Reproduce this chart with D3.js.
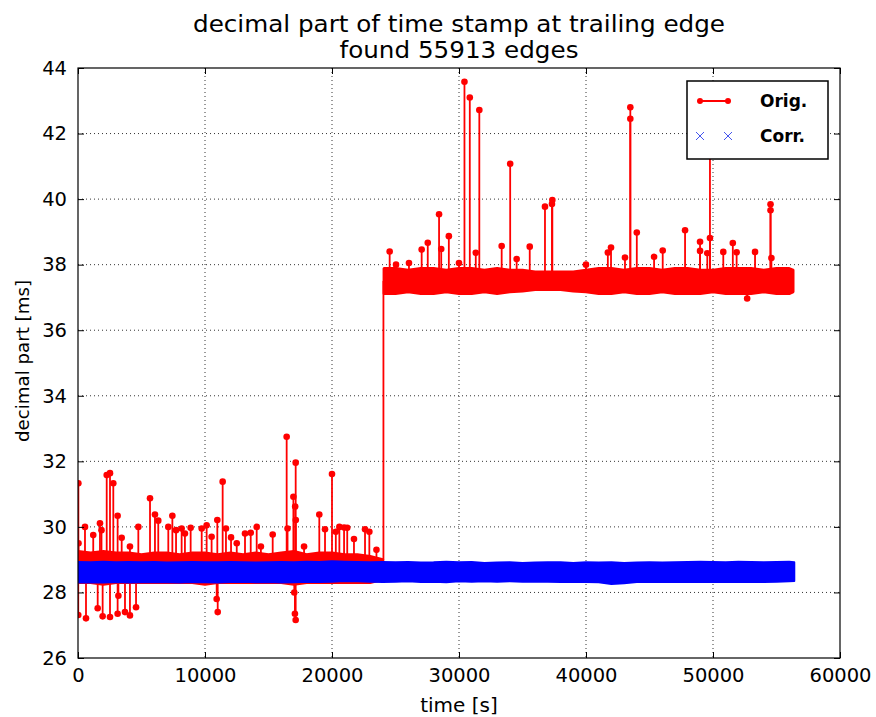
<!DOCTYPE html>
<html>
<head>
<meta charset="utf-8">
<script src="https://cdn.jsdelivr.net/npm/d3@7"></script>
<style>
  html, body { margin: 0; padding: 0; background: #fff; }
  svg { display: block; }
  text { font-family: "DejaVu Sans", sans-serif; fill: #000; }
</style>
</head>
<body>
<svg id="chart" width="876" height="717"></svg>
<script>
// ---------- DATA ----------
const titleLines = ["decimal part of time stamp at trailing edge", "found 55913 edges"];
const xLabel = "time [s]";
const yLabel = "decimal part [ms]";
const xTicks = [0, 10000, 20000, 30000, 40000, 50000, 60000];
const yTicks = [26, 28, 30, 32, 34, 36, 38, 40, 42, 44];
const seriesNames = ["Orig.", "Corr."];

// Orig. dense band, first part (before the jump): envelope of the noise
const origBand1T  = [0,1000,2000,3000,4000,5000,6000,7000,8000,9000,10000,11000,12000,13000,14000,15000,16000,17000,18000,19000,20000,21000,22000,23000,24000];
const origBand1Hi = [29.25,29.2,29.25,29.2,29.2,29.15,29.2,29.2,29.15,29.2,29.2,29.15,29.2,29.15,29.2,29.15,29.2,29.25,29.15,29.2,29.2,29.15,29.15,29.1,29.0];
const origBand1Lo = [28.3,28.3,28.25,28.3,28.3,28.3,28.3,28.3,28.3,28.3,28.25,28.3,28.3,28.3,28.3,28.3,28.3,28.25,28.3,28.3,28.3,28.3,28.3,28.3,28.4];

// Orig. dense band, second part (after the jump)
const origBand2T  = [24100,25000,26000,27000,28000,29000,30000,31000,32000,33000,34000,35000,36000,37000,38000,39000,40000,41000,42000,43000,44000,45000,46000,47000,48000,49000,50000,51000,52000,53000,54000,55000,56000,56300];
const origBand2Hi = [37.88,37.88,37.83,37.88,37.88,37.83,37.88,37.88,37.83,37.88,37.83,37.83,37.78,37.78,37.78,37.78,37.83,37.88,37.88,37.83,37.88,37.88,37.83,37.88,37.88,37.83,37.83,37.88,37.88,37.88,37.83,37.88,37.88,37.83];
const origBand2Lo = [37.12,37.12,37.17,37.12,37.12,37.17,37.12,37.12,37.17,37.12,37.17,37.2,37.24,37.24,37.24,37.2,37.17,37.12,37.12,37.17,37.12,37.12,37.17,37.12,37.12,37.12,37.17,37.12,37.12,37.12,37.17,37.12,37.12,37.17];

// Orig. jump between the two levels
const origJumpT = [24050, 24050];
const origJumpV = [29.0, 37.5];

// Orig. outliers (spikes out of the band)
const origSpikeT = [30,40,550,1200,1730,1850,2260,2520,2780,3120,3440,4090,4750,5670,6060,6320,7110,7430,7720,8160,8420,8870,9740,10130,10520,10970,11390,11650,12050,12500,13150,13600,14070,14400,15330,16430,16500,16960,17100,17140,17150,17800,19000,19450,20000,20300,20580,20950,21200,21730,22600,22940,23500,
  20,630,1550,1940,2520,3120,3180,3700,4090,4570,10920,11000,17030,17080,17140,
  24540,25040,26060,27060,27540,28430,28600,29200,30000,30430,30850,31320,31600,33360,34030,34540,35570,36770,37320,37350,40000,41720,41970,43070,43490,43490,44000,45360,46040,47800,48980,48980,49550,49760,49760,50810,51560,51860,52690,53310,54530,54530,54600];
const origSpikeV = [31.33,29.5,30.0,29.75,30.11,29.9,31.58,31.64,31.33,30.34,29.67,29.4,30.0,30.87,30.38,30.19,30.0,30.34,29.9,29.95,29.8,29.97,29.95,30.05,29.7,30.21,31.38,29.95,29.68,29.5,29.8,29.82,30.0,29.4,29.77,32.75,29.95,30.92,30.62,31.96,30.21,29.4,30.38,29.93,31.61,29.85,30.0,29.98,29.97,29.63,29.93,29.85,29.3,
  27.31,27.21,27.52,27.27,27.25,27.35,27.9,27.4,27.3,27.55,27.8,27.4,28.0,27.35,27.16,
  38.4,38.0,38.05,38.46,38.67,39.54,38.48,38.87,38.05,43.58,43.1,38.36,42.72,38.57,41.08,38.17,38.55,39.77,39.85,39.97,38.0,38.37,38.52,38.22,42.8,42.45,38.98,38.24,38.43,39.05,38.7,38.42,38.35,42.0,38.81,38.39,38.66,38.38,36.97,38.39,39.84,39.66,38.2];

// Corr. dense band: envelope of the corrected values
const corrBandT  = [0,1000,2000,3000,4000,5000,6000,7000,8000,9000,10000,11000,12000,13000,14000,15000,16000,17000,18000,19000,20000,21000,22000,23000,24000,25000,26000,27000,28000,29000,30000,31000,32000,33000,34000,35000,36000,37000,38000,39000,40000,41000,42000,43000,44000,45000,46000,47000,48000,49000,50000,51000,52000,53000,54000,55000,56000,56400];
const corrBandHi = [28.93,28.92,28.94,28.92,28.93,28.92,28.93,28.91,28.92,28.93,28.92,28.92,28.93,28.92,28.91,28.92,28.93,28.92,28.94,28.93,28.95,28.94,28.93,28.92,28.93,28.92,28.93,28.91,28.92,28.94,28.92,28.93,28.9,28.91,28.92,28.9,28.91,28.92,28.92,28.9,28.92,28.91,28.92,28.9,28.91,28.92,28.91,28.92,28.93,28.94,28.93,28.92,28.94,28.93,28.92,28.93,28.94,28.92];
const corrBandLo = [28.3,28.31,28.3,28.32,28.3,28.31,28.32,28.31,28.3,28.32,28.31,28.3,28.32,28.33,28.31,28.32,28.3,28.31,28.33,28.32,28.33,28.35,28.34,28.33,28.32,28.33,28.34,28.32,28.33,28.31,28.34,28.33,28.34,28.33,28.34,28.33,28.33,28.33,28.32,28.33,28.32,28.31,28.26,28.28,28.32,28.33,28.32,28.33,28.32,28.33,28.32,28.33,28.32,28.33,28.32,28.33,28.34,28.35];

// ---------- LAYOUT ----------
const W = 876, H = 717;
const margin = {left: 78, right: 36, top: 68, bottom: 59};
const plotW = W - margin.left - margin.right;   // 762
const plotH = H - margin.top - margin.bottom;   // 590

const svg = d3.select("#chart");
const g = svg.append("g").attr("transform", `translate(${margin.left},${margin.top})`);

const x = d3.scaleLinear().domain([0, 60000]).range([0, plotW]);
const y = d3.scaleLinear().domain([26, 44]).range([plotH, 0]);

// clip
svg.append("defs").append("clipPath").attr("id", "clip")
  .append("rect").attr("x", 0).attr("y", 0).attr("width", plotW).attr("height", plotH);

// grid (dotted)
const grid = g.append("g");
grid.selectAll("line.gx").data(xTicks.slice(1, -1)).join("line")
  .attr("x1", d => x(d)).attr("x2", d => x(d)).attr("y1", 0).attr("y2", plotH)
  .attr("stroke", "#000").attr("stroke-width", 0.8).attr("stroke-dasharray", "1,3");
grid.selectAll("line.gy").data(yTicks.slice(1, -1)).join("line")
  .attr("y1", d => y(d)).attr("y2", d => y(d)).attr("x1", 0).attr("x2", plotW)
  .attr("stroke", "#000").attr("stroke-width", 0.8).attr("stroke-dasharray", "1,3");

const data = g.append("g").attr("clip-path", "url(#clip)");
const RED = "#ff0000", BLUE = "#0000ff";

// helper for band centre
function bandMid(t) {
  if (t < 24050) {
    const i = d3.bisectLeft(origBand1T, t);
    const k = Math.min(i, origBand1T.length - 1);
    return (origBand1Hi[k] + origBand1Lo[k]) / 2;
  }
  const i = d3.bisectLeft(origBand2T, t);
  const k = Math.min(i, origBand2T.length - 1);
  return (origBand2Hi[k] + origBand2Lo[k]) / 2;
}

// Orig spikes (lines)
const spikes = origSpikeT.map((t, i) => ({t, v: origSpikeV[i]}));
data.append("g").selectAll("line").data(spikes).join("line")
  .attr("x1", d => x(d.t)).attr("x2", d => x(d.t))
  .attr("y1", d => y(bandMid(d.t))).attr("y2", d => y(d.v))
  .attr("stroke", RED).attr("stroke-width", 1.8);

// Orig jump
data.append("line")
  .attr("x1", x(origJumpT[0])).attr("x2", x(origJumpT[1]))
  .attr("y1", y(origJumpV[0])).attr("y2", y(origJumpV[1]))
  .attr("stroke", RED).attr("stroke-width", 1.8);

// Orig bands
const area = d3.area().x(d => x(d.t)).y0(d => y(d.lo)).y1(d => y(d.hi));
const b1 = origBand1T.map((t, i) => ({t, hi: origBand1Hi[i], lo: origBand1Lo[i]}));
const b2 = origBand2T.map((t, i) => ({t, hi: origBand2Hi[i], lo: origBand2Lo[i]}));
[b1, b2].forEach(b => {
  data.append("path").datum(b).attr("d", area)
    .attr("fill", RED).attr("stroke", RED).attr("stroke-width", 3).attr("stroke-linejoin", "round");
});

// Orig spike markers
data.append("g").selectAll("circle").data(spikes).join("circle")
  .attr("cx", d => x(d.t)).attr("cy", d => y(d.v)).attr("r", 3.3)
  .attr("fill", RED);

// Corr band
const bc = corrBandT.map((t, i) => ({t, hi: corrBandHi[i], lo: corrBandLo[i]}));
data.append("path").datum(bc).attr("d", area)
  .attr("fill", BLUE).attr("stroke", BLUE).attr("stroke-width", 2).attr("stroke-linejoin", "round");

// frame
g.append("rect").attr("x", 0).attr("y", 0).attr("width", plotW).attr("height", plotH)
  .attr("fill", "none").attr("stroke", "#000").attr("stroke-width", 1.2);

// axes (ticks inward on all sides)
const fs = 19.5;
const xAxisB = d3.axisBottom(x).tickValues(xTicks).tickFormat(d3.format("d")).tickSizeInner(-6).tickSizeOuter(0).tickPadding(10);
const xAxisT = d3.axisTop(x).tickValues(xTicks).tickFormat("").tickSizeInner(-6).tickSizeOuter(0);
const yAxisL = d3.axisLeft(y).tickValues(yTicks).tickFormat(d3.format("d")).tickSizeInner(-6).tickSizeOuter(0).tickPadding(11);
const yAxisR = d3.axisRight(y).tickValues(yTicks).tickFormat("").tickSizeInner(-6).tickSizeOuter(0);

function styleAxis(sel) {
  sel.select(".domain").remove();
  sel.selectAll(".tick line").attr("stroke", "#000").attr("stroke-width", 1);
  sel.selectAll(".tick text").attr("font-size", fs).attr("font-family", "DejaVu Sans, sans-serif").attr("fill", "#000");
}
g.append("g").attr("transform", `translate(0,${plotH})`).call(xAxisB).call(styleAxis);
g.append("g").call(xAxisT).call(styleAxis);
g.append("g").call(yAxisL).call(styleAxis);
g.append("g").attr("transform", `translate(${plotW},0)`).call(yAxisR).call(styleAxis);

// labels
svg.append("text").attr("x", margin.left + plotW / 2).attr("y", 712)
  .attr("text-anchor", "middle").attr("font-size", 20).text(xLabel);
svg.append("text").attr("transform", `translate(29,${margin.top + plotH / 2 - 2}) rotate(-90)`)
  .attr("text-anchor", "middle").attr("font-size", 18.2).text(yLabel);

// title
svg.append("text").attr("x", margin.left + plotW / 2).attr("y", 32)
  .attr("text-anchor", "middle").attr("font-size", 23)
  .attr("textLength", 532).attr("lengthAdjust", "spacingAndGlyphs").text(titleLines[0]);
svg.append("text").attr("x", margin.left + plotW / 2).attr("y", 58)
  .attr("text-anchor", "middle").attr("font-size", 23)
  .attr("textLength", 239).attr("lengthAdjust", "spacingAndGlyphs").text(titleLines[1]);

// legend
const lg = svg.append("g").attr("transform", "translate(687,81)");
lg.append("rect").attr("width", 141).attr("height", 78).attr("fill", "#fff")
  .attr("stroke", "#000").attr("stroke-width", 1.5);
lg.append("line").attr("x1", 13).attr("x2", 41).attr("y1", 20).attr("y2", 20)
  .attr("stroke", RED).attr("stroke-width", 2);
[13, 41].forEach(px => lg.append("circle").attr("cx", px).attr("cy", 20).attr("r", 3).attr("fill", RED));
[13, 41].forEach(px => {
  lg.append("path").attr("d", `M${px-4},${55-4}L${px+4},${55+4}M${px-4},${55+4}L${px+4},${55-4}`)
    .attr("stroke", "#4455ee").attr("stroke-width", 1);
});
lg.append("text").attr("x", 73).attr("y", 26).attr("font-size", 17).attr("font-weight", "bold").text(seriesNames[0]);
lg.append("text").attr("x", 73).attr("y", 61).attr("font-size", 17).attr("font-weight", "bold").text(seriesNames[1]);
</script>
</body>
</html>
